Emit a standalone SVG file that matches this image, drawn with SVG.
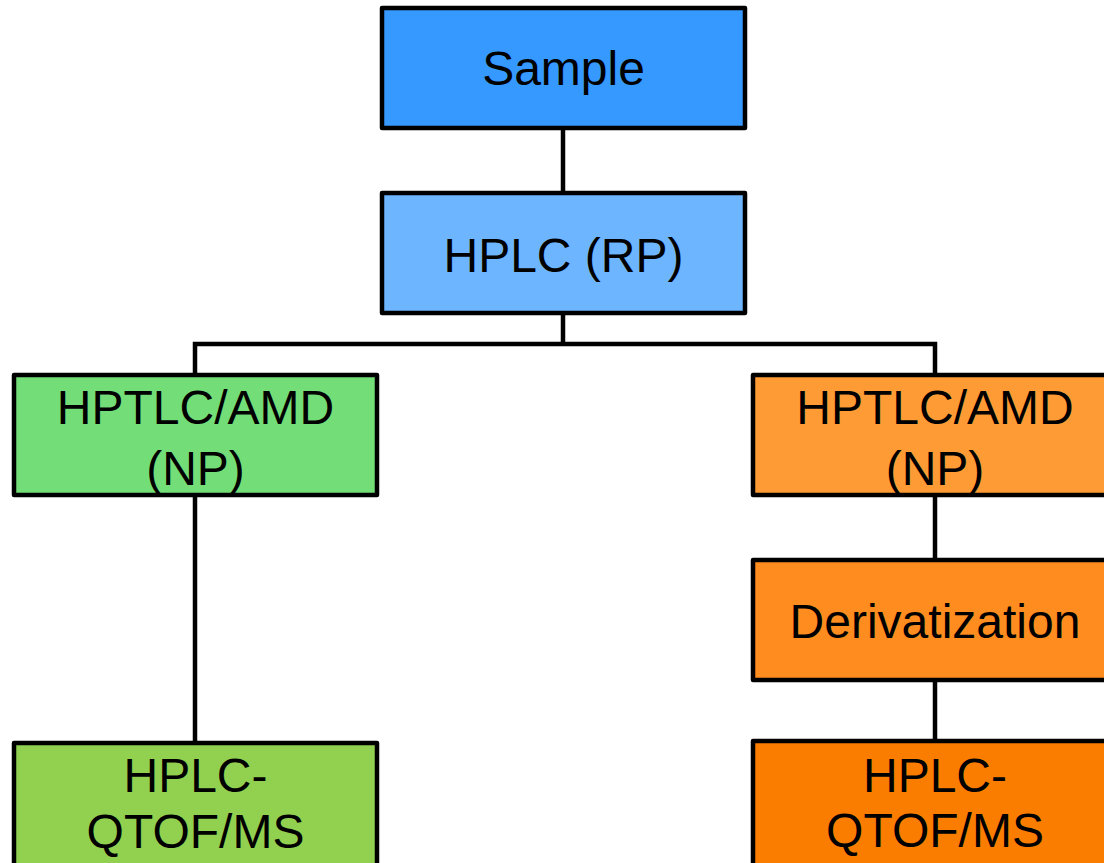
<svg xmlns="http://www.w3.org/2000/svg" width="1104" height="863" viewBox="0 0 1104 863">
<style>
.box{stroke:#000;stroke-width:4.5;stroke-linejoin:round}
.lbl{font-family:"Liberation Sans",Arial,sans-serif;font-size:48px;fill:#000;text-anchor:middle}
.conn{stroke:#000;stroke-width:4.5;fill:none}
</style>
<rect width="1104" height="863" fill="#fff"/>
<g id="connectors">
<path class="conn" d="M563 128V193"/>
<path class="conn" d="M563 313V344M195 375V344H935V375"/>
<path class="conn" d="M195 495V743"/>
<path class="conn" d="M935 495V560"/>
<path class="conn" d="M935 680V741"/>
</g>
<g id="sample">
<rect class="box" x="382" y="8" width="363" height="120" fill="#3699FF"/>
<text class="lbl" x="563.5" y="85">Sample</text>
</g>
<g id="hplc-rp">
<rect class="box" x="382" y="193" width="363" height="120" fill="#6DB6FF"/>
<text class="lbl" x="563.5" y="272">HPLC (RP)</text>
</g>
<g id="hptlc-left">
<rect class="box" x="14" y="375" width="363" height="120" fill="#73DE78"/>
<text class="lbl" x="195.5" y="424">HPTLC/AMD</text>
<text class="lbl" x="195.5" y="485">(NP)</text>
</g>
<g id="hptlc-right">
<rect class="box" x="753" y="375" width="363" height="120" fill="#FF9B35"/>
<text class="lbl" x="935" y="424">HPTLC/AMD</text>
<text class="lbl" x="935" y="485">(NP)</text>
</g>
<g id="derivatization">
<rect class="box" x="753" y="560" width="363" height="120" fill="#FF8C1E"/>
<text class="lbl" x="935" y="638">Derivatization</text>
</g>
<g id="qtof-left">
<rect class="box" x="14" y="743" width="363" height="130" fill="#92D150"/>
<text class="lbl" x="195.5" y="792">HPLC-</text>
<text class="lbl" x="195.5" y="848">QTOF/MS</text>
</g>
<g id="qtof-right">
<rect class="box" x="753" y="741" width="363" height="130" fill="#FB7D00"/>
<text class="lbl" x="935" y="792">HPLC-</text>
<text class="lbl" x="935" y="847">QTOF/MS</text>
</g>
</svg>
